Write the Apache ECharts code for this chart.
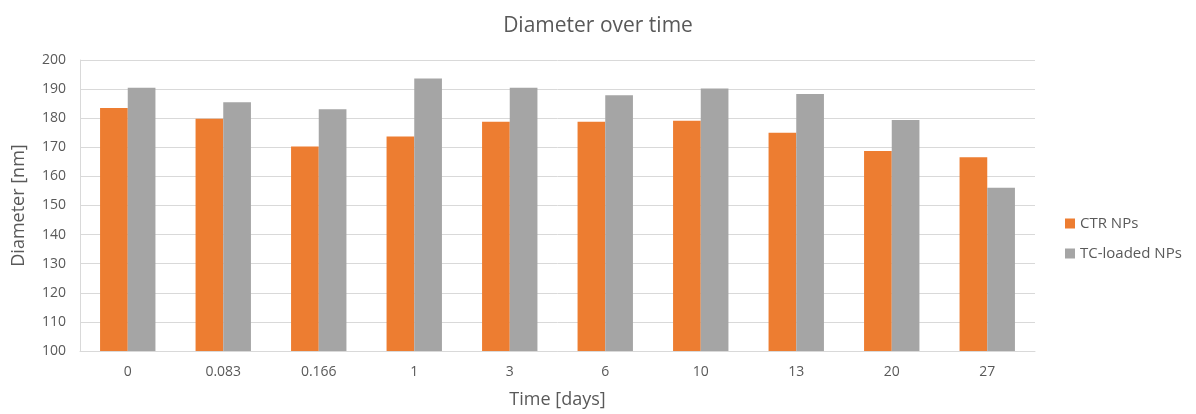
<!DOCTYPE html>
<html><head><meta charset="utf-8">
<script src="https://cdn.jsdelivr.net/npm/echarts@6/dist/echarts.min.js"></script>
<style>html,body{margin:0;padding:0;background:#fff}#c{width:1196px;height:414px}</style>
</head><body><div id="c"></div>
<script>
const categories = ['0','0.083','0.166','1','3','6','10','13','20','27'];
const ctrNPs = [183.5,179.8,170.3,173.7,178.8,178.8,179.1,175.0,168.7,166.6];
const tcLoadedNPs = [190.5,185.5,183.1,193.6,190.5,187.9,190.2,188.3,179.4,156.1];
const seriesNames = ['CTR NPs','TC-loaded NPs'];
const font = '"Open Sans", "Noto Sans", sans-serif';
const chart = echarts.init(document.getElementById('c'));
chart.setOption({
  animation:false,
  title:{text:'Diameter over time',left:'center',top:11,textStyle:{fontFamily:font,fontSize:21,fontWeight:'normal',color:'#595959'}},
  grid:{left:80,right:161,top:60,bottom:62},
  legend:{orient:'vertical',left:1060,top:211,itemGap:15,itemWidth:10,itemHeight:10,icon:'rect',
    textStyle:{fontFamily:font,fontSize:15,color:'#595959'},data:seriesNames},
  xAxis:{type:'category',data:categories,name:'Time [days]',nameLocation:'middle',nameGap:40,
    nameTextStyle:{fontFamily:font,fontSize:18,color:'#595959'},
    axisLine:{lineStyle:{color:'#D9D9D9'}},axisTick:{show:false},
    axisLabel:{fontFamily:font,fontSize:14,color:'#595959',margin:14}},
  yAxis:{type:'value',min:100,max:200,interval:10,name:'Diameter [nm]',nameLocation:'middle',nameGap:52,
    nameTextStyle:{fontFamily:font,fontSize:18,color:'#595959'},
    axisLine:{show:true,lineStyle:{color:'#D9D9D9'}},axisTick:{show:false},
    splitLine:{lineStyle:{color:'#D9D9D9'}},
    axisLabel:{fontFamily:font,fontSize:14,color:'#595959',margin:14}},
  series:[
    {name:seriesNames[0],type:'bar',data:ctrNPs,itemStyle:{color:'#ED7D31'},barGap:'0%',barCategoryGap:'42%'},
    {name:seriesNames[1],type:'bar',data:tcLoadedNPs,itemStyle:{color:'#A5A5A5'},barGap:'0%',barCategoryGap:'42%'}
  ]
});
</script></body></html>
